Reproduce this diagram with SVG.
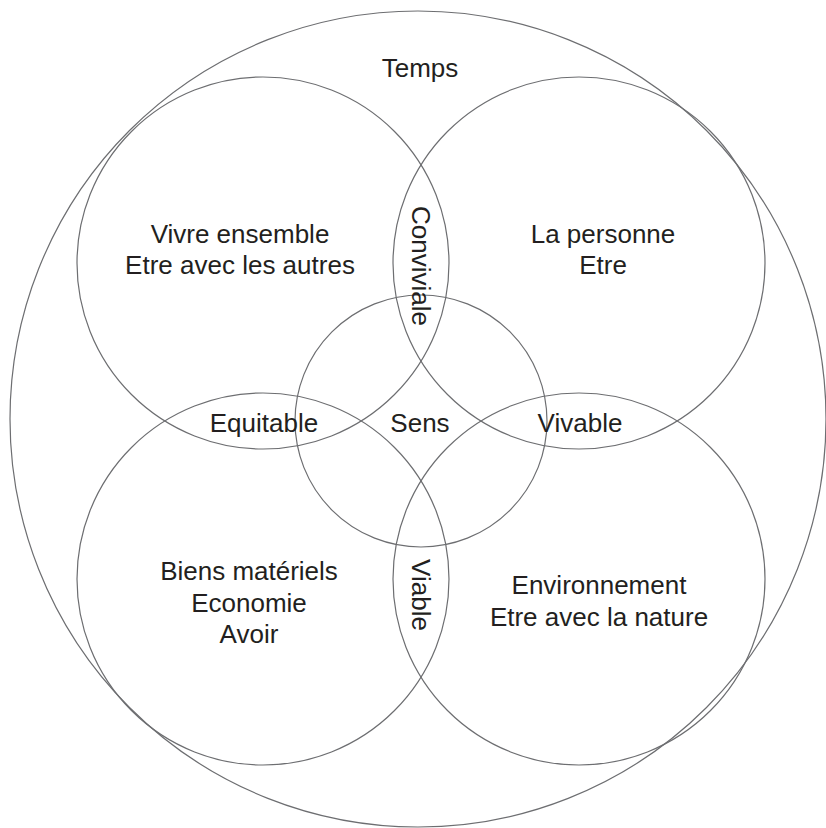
<svg xmlns="http://www.w3.org/2000/svg" width="826" height="828" viewBox="0 0 826 828">
<style>
.c{fill:none;stroke:#6d6e71;stroke-width:1.2}
.t{font-family:"Liberation Sans",Arial,sans-serif;font-size:26px;fill:#231f20;text-anchor:middle}
</style>
<rect width="826" height="828" fill="#fff"/>
<g id="temps"><circle class="c" cx="418" cy="419" r="408"/><text class="t" x="420" y="77">Temps</text></g>
<g id="vivre-ensemble"><circle class="c" cx="263" cy="263" r="186"/><text class="t" x="240" y="243">Vivre ensemble</text><text class="t" x="240" y="274">Etre avec les autres</text></g>
<g id="la-personne"><circle class="c" cx="579" cy="263" r="186"/><text class="t" x="603" y="243">La personne</text><text class="t" x="603" y="274">Etre</text></g>
<g id="biens"><circle class="c" cx="263" cy="579" r="186"/><text class="t" x="249" y="580">Biens matériels</text><text class="t" x="249" y="612">Economie</text><text class="t" x="249" y="643">Avoir</text></g>
<g id="environnement"><circle class="c" cx="579" cy="579" r="186"/><text class="t" x="599" y="594">Environnement</text><text class="t" x="599" y="626">Etre avec la nature</text></g>
<g id="sens"><circle class="c" cx="421" cy="421" r="126"/><text class="t" x="420" y="432">Sens</text></g>
<g id="conviviale"><text class="t" transform="translate(412,266) rotate(90)">Conviviale</text></g>
<g id="viable"><text class="t" transform="translate(412,595) rotate(90)">Viable</text></g>
<g id="equitable"><text class="t" x="264" y="432">Equitable</text></g>
<g id="vivable"><text class="t" x="580" y="432">Vivable</text></g>
</svg>
